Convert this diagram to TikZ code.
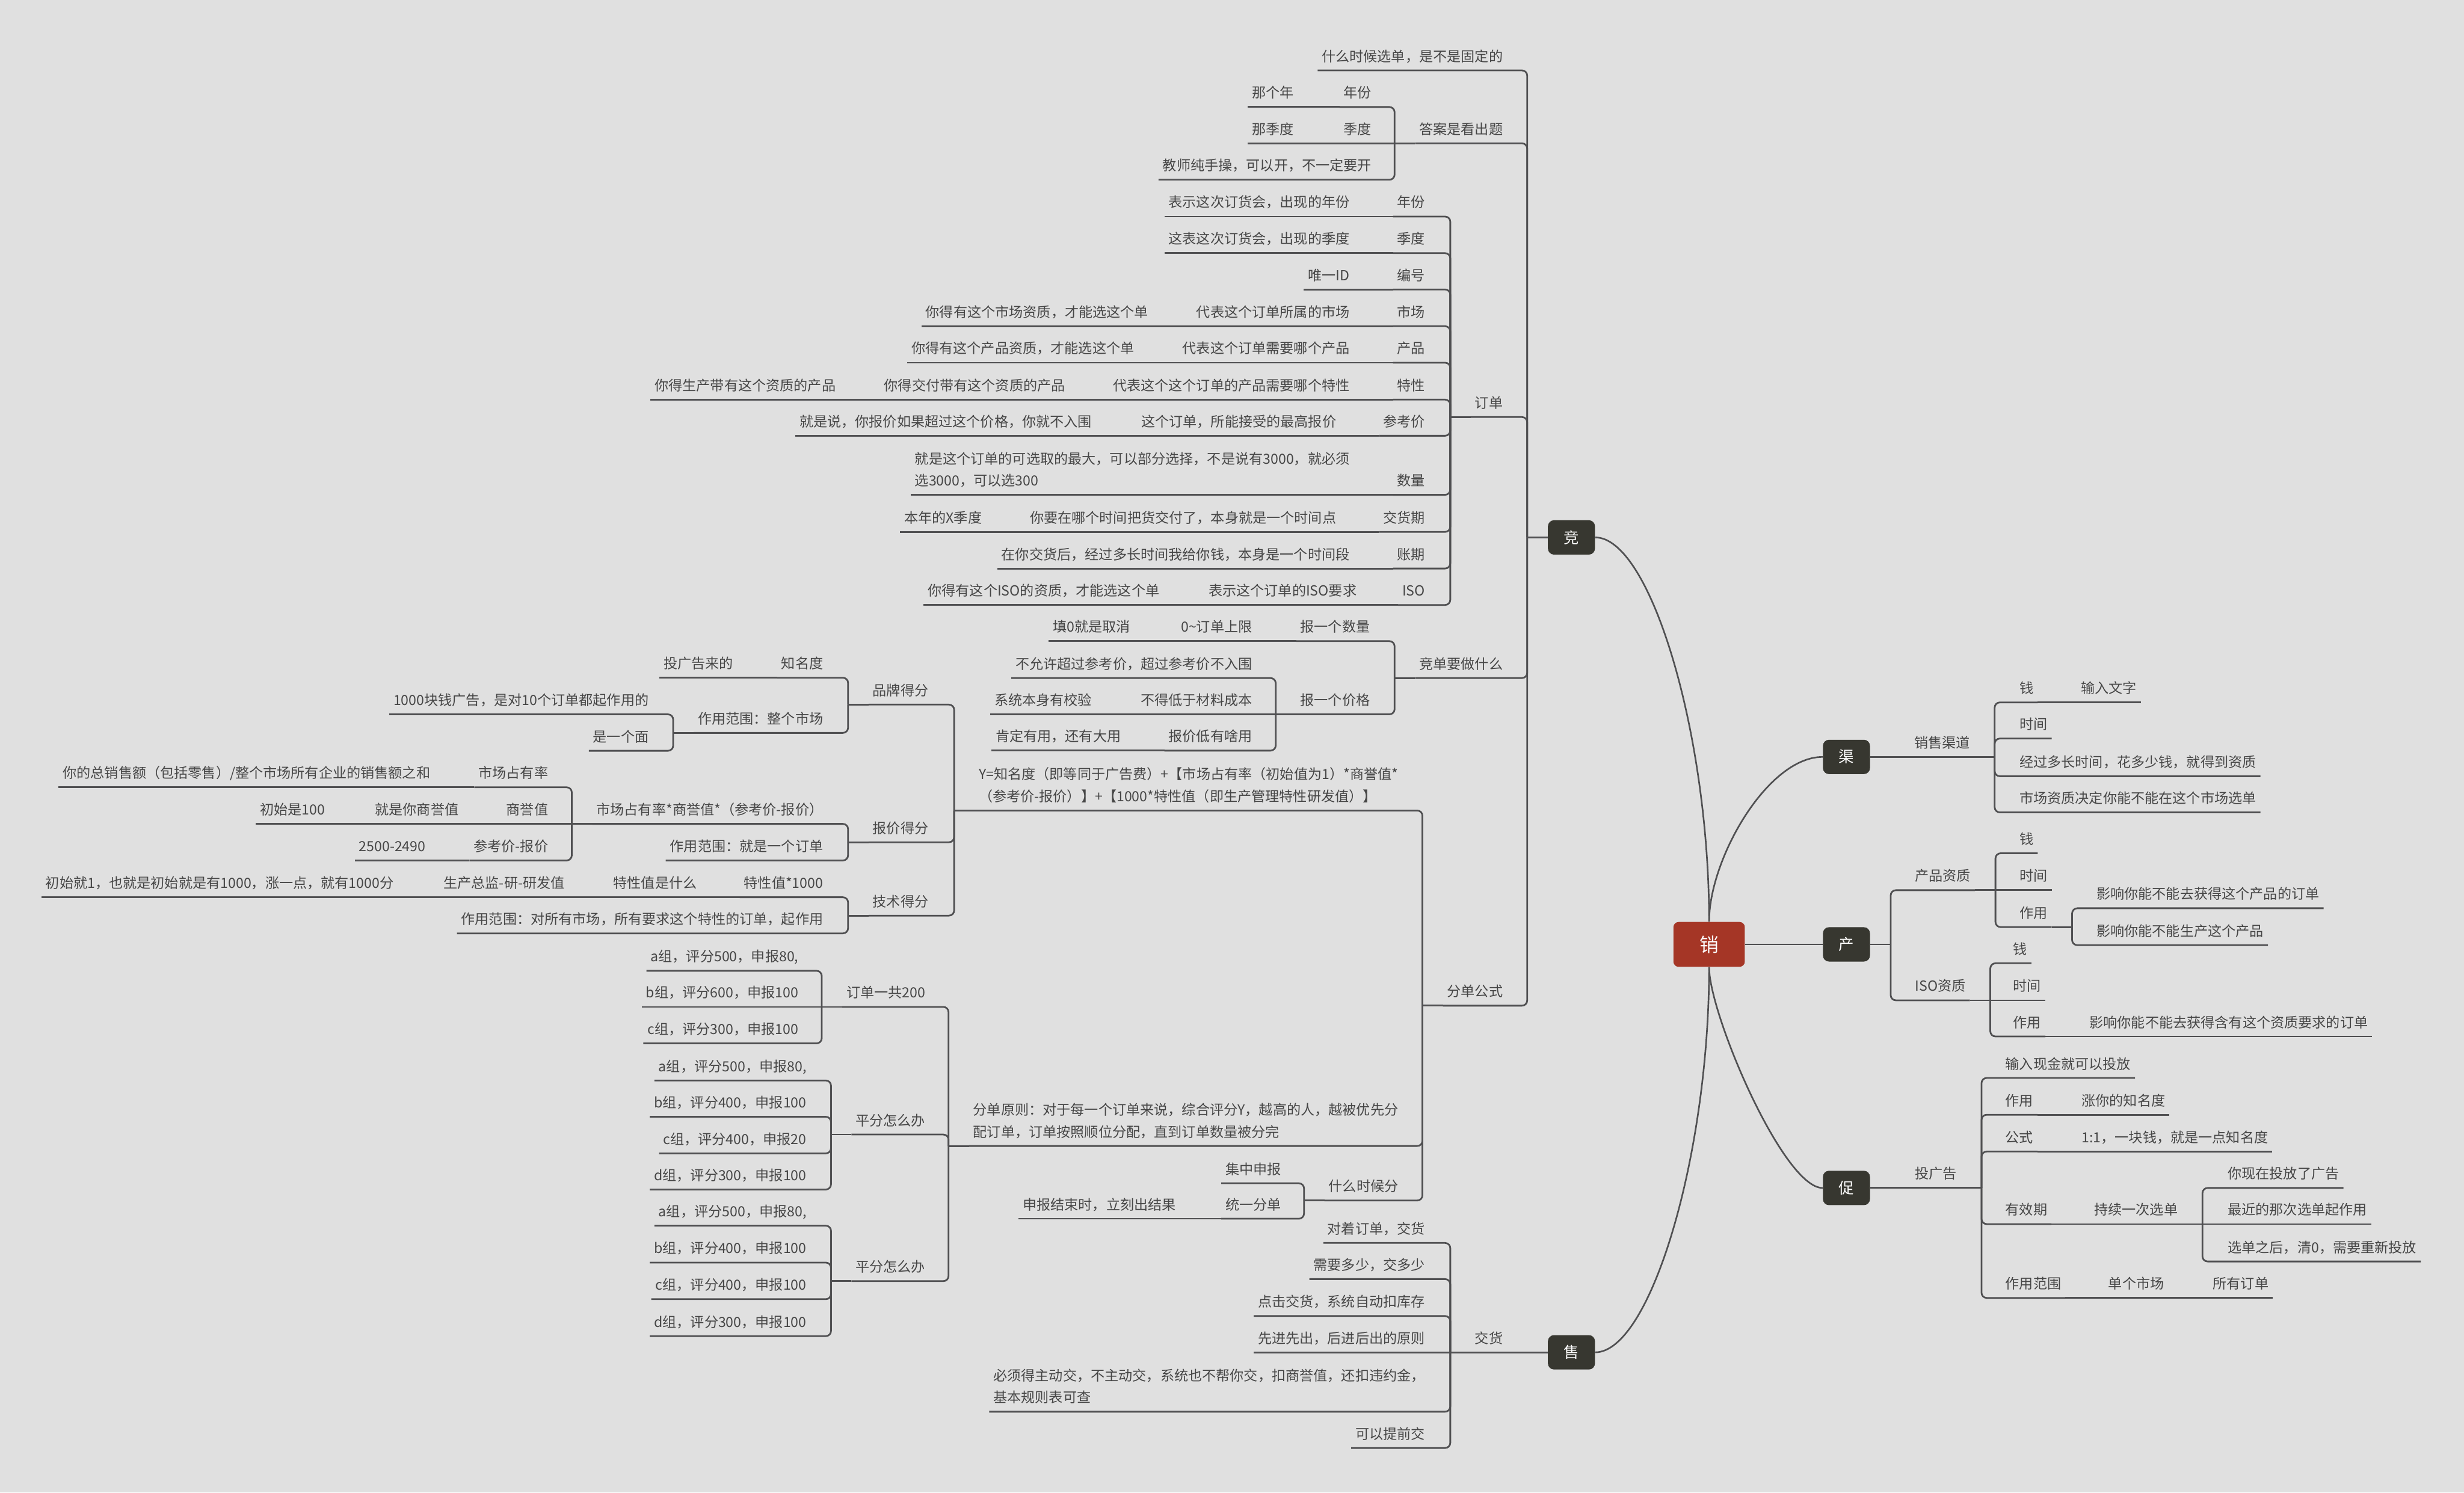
\documentclass[tikz,border=0pt]{standalone}
\usepackage{fontspec}
\setmainfont{Noto Sans CJK SC}
\usetikzlibrary{positioning}
\definecolor{paper}{RGB}{224,224,224}
\definecolor{ink}{RGB}{70,70,70}
\definecolor{wire}{RGB}{80,80,82}
\definecolor{hubfill}{RGB}{55,55,48}
\definecolor{rootfill}{RGB}{165,54,38}

\begin{document}
\begin{tikzpicture}[x=0.361mm, y=-0.361mm,
  every node/.style={font=\fontsize{9.1}{14.4}\selectfont, text=ink},
  lt/.style={anchor=south east, inner xsep=0.9mm, inner ysep=1.25mm, text height=2.75mm, text depth=0.75mm},
  rt/.style={lt, anchor=south west},
  ml/.style={anchor=south east, inner xsep=0.9mm, inner ysep=1.25mm, align=left, execute at end node={\rule[-0.75mm]{0pt}{0pt}}},
  hub/.style={fill=hubfill, text=white, rounded corners=1.4mm, minimum width=10.8mm, minimum height=7.9mm, inner sep=0pt, font=\fontsize{10}{12}\selectfont},
  root/.style={hub, fill=rootfill, rounded corners=1.2mm, minimum width=16.4mm, minimum height=10.3mm, font=\fontsize{12.5}{14}\selectfont},
  link/.style={draw=wire, line width=1.1pt, rounded corners=1.2mm},
  stem/.style={draw=wire, line width=1.05pt}]
\useasboundingbox (0,0) rectangle (1568,949.8);
\fill[paper] (0,0) rectangle (1568,949.8);

\node[root] (x) at (1087.6,601) {销};
\node[hub] (j) at (1000,342) {竞};
\node[hub] (s) at (1000,860.6) {售};
\node[hub] (q) at (1175,481.7) {渠};
\node[hub] (c) at (1175,601) {产};
\node[hub] (cu) at (1175,756) {促};

\node[lt] (j1) at (959,44.8) {什么时候选单，是不是固定的};
\node[lt] (j2) at (959,91.2) {答案是看出题};
\node[lt] (j2a) at (875.5,68.1) {年份};
\node[lt] (j2a1) at (826,68.1) {那个年};
\node[lt] (j2b) at (875.5,91.2) {季度};
\node[lt] (j2b1) at (826,91.2) {那季度};
\node[lt] (j2c) at (875.5,114.4) {教师纯手操，可以开，不一定要开};
\node[lt] (j3) at (959,265.4) {订单};
\node[lt] (j3a) at (909.5,137.8) {年份};
\node[lt] (j3a1) at (861.5,137.8) {表示这次订货会，出现的年份};
\node[lt] (j3b) at (909.5,161.1) {季度};
\node[lt] (j3b1) at (861.5,161.1) {这表这次订货会，出现的季度};
\node[lt] (j3c) at (909.5,184.2) {编号};
\node[lt] (j3c1) at (861.5,184.2) {唯一ID};
\node[lt] (j3d) at (909.5,207.6) {市场};
\node[lt] (j3d1) at (861.5,207.6) {代表这个订单所属的市场};
\node[lt] (j3d2) at (733.5,207.6) {你得有这个市场资质，才能选这个单};
\node[lt] (j3e) at (909.5,230.8) {产品};
\node[lt] (j3e1) at (861.5,230.8) {代表这个订单需要哪个产品};
\node[lt] (j3e2) at (724.5,230.8) {你得有这个产品资质，才能选这个单};
\node[lt] (j3f) at (909.5,254.3) {特性};
\node[lt] (j3f1) at (861.5,254.3) {代表这个这个订单的产品需要哪个特性};
\node[lt] (j3f2) at (680.5,254.3) {你得交付带有这个资质的产品};
\node[lt] (j3f3) at (534.5,254.3) {你得生产带有这个资质的产品};
\node[lt] (j3g) at (909.5,277.3) {参考价};
\node[lt] (j3g1) at (853,277.3) {这个订单，所能接受的最高报价};
\node[lt] (j3g2) at (697.5,277.3) {就是说，你报价如果超过这个价格，你就不入围};
\node[lt] (j3h) at (909.5,314.9) {数量};
\node[ml] (j3h1) at (861.5,314.9) {就是这个订单的可选取的最大，可以部分选择，不是说有3000，就必须\\选3000，可以选300};
\node[lt] (j3i) at (909.5,338.5) {交货期};
\node[lt] (j3i1) at (853,338.5) {你要在哪个时间把货交付了，本身就是一个时间点};
\node[lt] (j3i2) at (627.5,338.5) {本年的X季度};
\node[lt] (j3j) at (909.5,361.8) {账期};
\node[lt] (j3j1) at (861.5,361.8) {在你交货后，经过多长时间我给你钱，本身是一个时间段};
\node[lt] (j3k) at (909.5,385) {ISO};
\node[lt] (j3k1) at (866,385) {表示这个订单的ISO要求};
\node[lt] (j3k2) at (740.5,385) {你得有这个ISO的资质，才能选这个单};
\node[lt] (j4) at (959,431.5) {竞单要做什么};
\node[lt] (j4a) at (874.5,408) {报一个数量};
\node[lt] (j4a1) at (799.5,408) {0\textasciitilde 订单上限};
\node[lt] (j4a2) at (722,408) {填0就是取消};
\node[lt] (j4b) at (874.5,454.6) {报一个价格};
\node[lt] (j4b1) at (799.5,431.5) {不允许超过参考价，超过参考价不入围};
\node[lt] (j4b2) at (799.5,454.6) {不得低于材料成本};
\node[lt] (j4b21) at (697.5,454.6) {系统本身有校验};
\node[lt] (j4b3) at (799.5,477.7) {报价低有啥用};
\node[lt] (j4b31) at (716,477.7) {肯定有用，还有大用};
\node[lt] (j5) at (959,640) {分单公式};
\node[ml] (j5a) at (892.5,515.8) {Y=知名度（即等同于广告费）+【市场占有率（初始值为1）*商誉值*\\（参考价-报价）】+【1000*特性值（即生产管理特性研发值）】};
\node[lt] (j5a1) at (593.5,448.4) {品牌得分};
\node[lt] (j5a11) at (526.5,431.3) {知名度};
\node[lt] (j5a111) at (469.3,431.3) {投广告来的};
\node[lt] (j5a12) at (526.5,466.4) {作用范围：整个市场};
\node[lt] (j5a121) at (415.5,454.6) {1000块钱广告，是对10个订单都起作用的};
\node[lt] (j5a122) at (415.5,477.8) {是一个面};
\node[lt] (j5a2) at (593.5,536) {报价得分};
\node[lt] (j5a21) at (526.5,524.3) {市场占有率*商誉值*（参考价-报价）};
\node[lt] (j5a211) at (351.5,501) {市场占有率};
\node[lt] (j5a2111) at (276.5,501) {你的总销售额（包括零售）/整个市场所有企业的销售额之和};
\node[lt] (j5a212) at (351.5,524.3) {商誉值};
\node[lt] (j5a2121) at (294.5,524.3) {就是你商誉值};
\node[lt] (j5a2122) at (209.5,524.3) {初始是100};
\node[lt] (j5a213) at (351.5,547.6) {参考价-报价};
\node[lt] (j5a2131) at (273.5,547.6) {2500-2490};
\node[lt] (j5a22) at (526.5,547.6) {作用范围：就是一个订单};
\node[lt] (j5a3) at (593.5,582.7) {技术得分};
\node[lt] (j5a31) at (526.5,571) {特性值*1000};
\node[lt] (j5a311) at (446.2,571) {特性值是什么};
\node[lt] (j5a312) at (362,571) {生产总监-研-研发值};
\node[lt] (j5a313) at (253.2,571) {初始就1，也就是初始就是有1000，涨一点，就有1000分};
\node[lt] (j5a32) at (526.5,594) {作用范围：对所有市场，所有要求这个特性的订单，起作用};
\node[ml] (j5b) at (892.5,729.3) {分单原则：对于每一个订单来说，综合评分Y，越高的人，越被优先分\\配订单，订单按照顺位分配，直到订单数量被分完};
\node[lt] (j5b1) at (591.5,640.8) {订单一共200};
\node[lt] (j5b11) at (510.8,617.8) {a组，评分500，申报80,};
\node[lt] (j5b12) at (510.8,640.8) {b组，评分600，申报100};
\node[lt] (j5b13) at (510.8,664) {c组，评分300，申报100};
\node[lt] (j5b2) at (591.5,722) {平分怎么办};
\node[lt] (j5b21) at (515.9,687.6) {a组，评分500，申报80,};
\node[lt] (j5b22) at (515.9,710.7) {b组，评分400，申报100};
\node[lt] (j5b23) at (515.9,734) {c组，评分400，申报20};
\node[lt] (j5b24) at (515.9,757) {d组，评分300，申报100};
\node[lt] (j5b3) at (591.5,815.3) {平分怎么办};
\node[lt] (j5b31) at (515.9,780) {a组，评分500，申报80,};
\node[lt] (j5b32) at (515.9,803.5) {b组，评分400，申报100};
\node[lt] (j5b33) at (515.9,826.8) {c组，评分400，申报100};
\node[lt] (j5b34) at (515.9,850.3) {d组，评分300，申报100};
\node[lt] (j5c) at (892.5,764) {什么时候分};
\node[lt] (j5c1) at (818,753) {集中申报};
\node[lt] (j5c2) at (818,775.6) {统一分单};
\node[lt] (j5c21) at (751,775.6) {申报结束时，立刻出结果};

\node[lt] (s1) at (959,860.6) {交货};
\node[lt] (s1a) at (909.5,791) {对着订单，交货};
\node[lt] (s1b) at (909.5,814) {需要多少，交多少};
\node[lt] (s1c) at (909.5,837.5) {点击交货，系统自动扣库存};
\node[lt] (s1d) at (909.5,860.6) {先进先出，后进后出的原则};
\node[ml] (s1e) at (909.5,898.4) {必须得主动交，不主动交，系统也不帮你交，扣商誉值，还扣违约金，\\基本规则表可查};
\node[lt] (s1f) at (909.5,921.5) {可以提前交};

\node[rt] (q1) at (1215.5,481.7) {销售渠道};
\node[rt] (q1a) at (1282.5,447) {钱};
\node[rt] (q1a1) at (1321.5,447) {输入文字};
\node[rt] (q1b) at (1282.5,470) {时间};
\node[rt] (q1c) at (1282.5,494) {经过多长时间，花多少钱，就得到资质};
\node[rt] (q1d) at (1282.5,517) {市场资质决定你能不能在这个市场选单};

\node[rt] (c1) at (1216,566.5) {产品资质};
\node[rt] (c1a) at (1282.5,543) {钱};
\node[rt] (c1b) at (1282.5,566.5) {时间};
\node[rt] (c1c) at (1282.5,590) {作用};
\node[rt] (c1c1) at (1331.5,578) {影响你能不能去获得这个产品的订单};
\node[rt] (c1c2) at (1331.5,601.5) {影响你能不能生产这个产品};
\node[rt] (c2) at (1216,636.6) {ISO资质};
\node[rt] (c2a) at (1278.5,613) {钱};
\node[rt] (c2b) at (1278.5,636.6) {时间};
\node[rt] (c2c) at (1278.5,659.6) {作用};
\node[rt] (c2c1) at (1327,659.6) {影响你能不能去获得含有这个资质要求的订单};

\node[rt] (cu1) at (1216,756) {投广告};
\node[rt] (cu1a) at (1273.5,686) {输入现金就可以投放};
\node[rt] (cu1b) at (1273.5,709.4) {作用};
\node[rt] (cu1b1) at (1322,709.4) {涨你的知名度};
\node[rt] (cu1c) at (1273.5,732.8) {公式};
\node[rt] (cu1c1) at (1322,732.8) {1:1，一块钱，就是一点知名度};
\node[rt] (cu1d) at (1273.5,779) {有效期};
\node[rt] (cu1d1) at (1330,779) {持续一次选单};
\node[rt] (cu1d11) at (1415,756) {你现在投放了广告};
\node[rt] (cu1d12) at (1415,779) {最近的那次选单起作用};
\node[rt] (cu1d13) at (1415,802.8) {选单之后，清0，需要重新投放};
\node[rt] (cu1e) at (1273.5,826) {作用范围};
\node[rt] (cu1e1) at (1339,826) {单个市场};
\node[rt] (cu1e2) at (1405.5,826) {所有订单};

\draw[stem] (x.north) .. controls +(0,-120) and +(35,0) .. (j.east);
\draw[stem] (x.south) .. controls +(0,120) and +(35,0) .. (s.east);
\draw[stem] (x.north) .. controls +(0,-40) and +(-35,0) .. (q.west);
\draw[stem] (x.south) .. controls +(0,30) and +(-25,0) .. (cu.west);
\draw[stem] (x.east) -- (c.west);

\draw[stem] (j.west) -- ++(-13,0) coordinate (bj);
\draw[link] (bj) |- (j1.south east) -- (j1.south west);
\draw[link] (bj) |- (j2.south east) -- (j2.south west);
\draw[link] (bj) |- (j3.south east) -- (j3.south west);
\draw[link] (bj) |- (j4.south east) -- (j4.south west);
\draw[link] (bj) |- (j5.south east) -- (j5.south west);

\draw[link] (j2.south west) -- ++(-13,0) coordinate (bj2);
\draw[link] (bj2) |- (j2a.south east) -- (j2a.south west);
\draw[link] (bj2) -- (j2b.south west);
\draw[link] (bj2) |- (j2c.south east) -- (j2c.south west);
\draw[link] (j2a.south west) -- (j2a1.south west);
\draw[link] (j2b.south west) -- (j2b1.south west);

\draw[link] (j3.south west) -- ++(-13,0) coordinate (bj3);
\draw[link] (bj3) |- (j3a.south east) -- (j3a.south west);
\draw[link] (bj3) |- (j3b.south east) -- (j3b.south west);
\draw[link] (bj3) |- (j3c.south east) -- (j3c.south west);
\draw[link] (bj3) |- (j3d.south east) -- (j3d.south west);
\draw[link] (bj3) |- (j3e.south east) -- (j3e.south west);
\draw[link] (bj3) |- (j3f.south east) -- (j3f.south west);
\draw[link] (bj3) |- (j3g.south east) -- (j3g.south west);
\draw[link] (bj3) |- (j3h.south east) -- (j3h.south west);
\draw[link] (bj3) |- (j3i.south east) -- (j3i.south west);
\draw[link] (bj3) |- (j3j.south east) -- (j3j.south west);
\draw[link] (bj3) |- (j3k.south east) -- (j3k.south west);
\draw[link] (j3a.south west) -- (j3a1.south west);
\draw[link] (j3b.south west) -- (j3b1.south west);
\draw[link] (j3c.south west) -- (j3c1.south west);
\draw[link] (j3d.south west) -- (j3d1.south west) -- (j3d2.south west);
\draw[link] (j3e.south west) -- (j3e1.south west) -- (j3e2.south west);
\draw[link] (j3f.south west) -- (j3f1.south west) -- (j3f2.south west) -- (j3f3.south west);
\draw[link] (j3g.south west) -- (j3g1.south west) -- (j3g2.south west);
\draw[link] (j3h.south west) -- (j3h1.south west);
\draw[link] (j3i.south west) -- (j3i1.south west) -- (j3i2.south west);
\draw[link] (j3j.south west) -- (j3j1.south west);
\draw[link] (j3k.south west) -- (j3k1.south west) -- (j3k2.south west);

\draw[link] (j4.south west) -- ++(-13,0) coordinate (bj4);
\draw[link] (bj4) |- (j4a.south east) -- (j4a.south west);
\draw[link] (bj4) |- (j4b.south east) -- (j4b.south west);
\draw[link] (j4a.south west) -- (j4a1.south west) -- (j4a2.south west);
\draw[link] (j4b.south west) -- ++(-13,0) coordinate (bj4b);
\draw[link] (bj4b) |- (j4b1.south east) -- (j4b1.south west);
\draw[link] (bj4b) -- (j4b2.south west);
\draw[link] (bj4b) |- (j4b3.south east) -- (j4b3.south west);
\draw[link] (j4b2.south west) -- (j4b21.south west);
\draw[link] (j4b3.south west) -- (j4b31.south west);

\draw[link] (j5.south west) -- ++(-13,0) coordinate (bj5);
\draw[link] (bj5) |- (j5a.south east) -- (j5a.south west);
\draw[link] (bj5) |- (j5b.south east) -- (j5b.south west);
\draw[link] (bj5) |- (j5c.south east) -- (j5c.south west);
\draw[link] (j5a.south west) -- ++(-13,0) coordinate (bj5a);
\draw[link] (bj5a) |- (j5a1.south east) -- (j5a1.south west);
\draw[link] (bj5a) |- (j5a2.south east) -- (j5a2.south west);
\draw[link] (bj5a) |- (j5a3.south east) -- (j5a3.south west);
\draw[link] (j5a1.south west) -- ++(-13,0) coordinate (bj5a1);
\draw[link] (bj5a1) |- (j5a11.south east) -- (j5a11.south west);
\draw[link] (bj5a1) |- (j5a12.south east) -- (j5a12.south west);
\draw[link] (j5a11.south west) -- (j5a111.south west);
\draw[link] (j5a12.south west) -- ++(-13,0) coordinate (bj5a12);
\draw[link] (bj5a12) |- (j5a121.south east) -- (j5a121.south west);
\draw[link] (bj5a12) |- (j5a122.south east) -- (j5a122.south west);
\draw[link] (j5a2.south west) -- ++(-13,0) coordinate (bj5a2);
\draw[link] (bj5a2) |- (j5a21.south east) -- (j5a21.south west);
\draw[link] (bj5a2) |- (j5a22.south east) -- (j5a22.south west);
\draw[link] (j5a21.south west) -- ++(-13,0) coordinate (bj5a21);
\draw[link] (bj5a21) |- (j5a211.south east) -- (j5a211.south west);
\draw[link] (bj5a21) -- (j5a212.south west);
\draw[link] (bj5a21) |- (j5a213.south east) -- (j5a213.south west);
\draw[link] (j5a211.south west) -- (j5a2111.south west);
\draw[link] (j5a212.south west) -- (j5a2121.south west) -- (j5a2122.south west);
\draw[link] (j5a213.south west) -- (j5a2131.south west);
\draw[link] (j5a3.south west) -- ++(-13,0) coordinate (bj5a3);
\draw[link] (bj5a3) |- (j5a31.south east) -- (j5a31.south west);
\draw[link] (bj5a3) |- (j5a32.south east) -- (j5a32.south west);
\draw[link] (j5a31.south west) -- (j5a311.south west) -- (j5a312.south west) -- (j5a313.south west);
\draw[link] (j5b.south west) -- ++(-13,0) coordinate (bj5b);
\draw[link] (bj5b) |- (j5b1.south east) -- (j5b1.south west);
\draw[link] (bj5b) |- (j5b2.south east) -- (j5b2.south west);
\draw[link] (bj5b) |- (j5b3.south east) -- (j5b3.south west);
\draw[link] (j5b1.south west) -- ++(-13,0) coordinate (bj5b1);
\draw[link] (bj5b1) |- (j5b11.south east) -- (j5b11.south west);
\draw[link] (bj5b1) -- (j5b12.south west);
\draw[link] (bj5b1) |- (j5b13.south east) -- (j5b13.south west);
\draw[link] (j5b2.south west) -- ++(-13,0) coordinate (bj5b2);
\draw[link] (bj5b2) |- (j5b21.south east) -- (j5b21.south west);
\draw[link] (bj5b2) |- (j5b22.south east) -- (j5b22.south west);
\draw[link] (bj5b2) |- (j5b23.south east) -- (j5b23.south west);
\draw[link] (bj5b2) |- (j5b24.south east) -- (j5b24.south west);
\draw[link] (j5b3.south west) -- ++(-13,0) coordinate (bj5b3);
\draw[link] (bj5b3) |- (j5b31.south east) -- (j5b31.south west);
\draw[link] (bj5b3) |- (j5b32.south east) -- (j5b32.south west);
\draw[link] (bj5b3) |- (j5b33.south east) -- (j5b33.south west);
\draw[link] (bj5b3) |- (j5b34.south east) -- (j5b34.south west);
\draw[link] (j5c.south west) -- ++(-13,0) coordinate (bj5c);
\draw[link] (bj5c) |- (j5c1.south east) -- (j5c1.south west);
\draw[link] (bj5c) |- (j5c2.south east) -- (j5c2.south west);
\draw[link] (j5c2.south west) -- (j5c21.south west);

\draw[link] (s.west) -- (s1.south west);
\draw[link] (s1.south west) -- ++(-13,0) coordinate (bs1);
\draw[link] (bs1) |- (s1a.south east) -- (s1a.south west);
\draw[link] (bs1) |- (s1b.south east) -- (s1b.south west);
\draw[link] (bs1) |- (s1c.south east) -- (s1c.south west);
\draw[link] (bs1) -- (s1d.south west);
\draw[link] (bs1) |- (s1e.south east) -- (s1e.south west);
\draw[link] (bs1) |- (s1f.south east) -- (s1f.south west);

\draw[link] (q.east) -- (q1.south east);
\draw[link] (q1.south east) -- ++(13,0) coordinate (bq1);
\draw[link] (bq1) |- (q1a.south west) -- (q1a.south east);
\draw[link] (bq1) |- (q1b.south west) -- (q1b.south east);
\draw[link] (bq1) |- (q1c.south west) -- (q1c.south east);
\draw[link] (bq1) |- (q1d.south west) -- (q1d.south east);
\draw[link] (q1a.south east) -- (q1a1.south east);

\draw[stem] (c.east) -- ++(13,0) coordinate (bc);
\draw[link] (bc) |- (c1.south west) -- (c1.south east);
\draw[link] (bc) |- (c2.south west) -- (c2.south east);
\draw[link] (c1.south east) -- ++(13,0) coordinate (bc1);
\draw[link] (bc1) |- (c1a.south west) -- (c1a.south east);
\draw[link] (bc1) -- (c1b.south east);
\draw[link] (bc1) |- (c1c.south west) -- (c1c.south east);
\draw[link] (c1c.south east) -- ++(13,0) coordinate (bc1c);
\draw[link] (bc1c) |- (c1c1.south west) -- (c1c1.south east);
\draw[link] (bc1c) |- (c1c2.south west) -- (c1c2.south east);
\draw[link] (c2.south east) -- ++(13,0) coordinate (bc2);
\draw[link] (bc2) |- (c2a.south west) -- (c2a.south east);
\draw[link] (bc2) -- (c2b.south east);
\draw[link] (bc2) |- (c2c.south west) -- (c2c.south east);
\draw[link] (c2c.south east) -- (c2c1.south east);

\draw[link] (cu.east) -- (cu1.south east);
\draw[link] (cu1.south east) -- ++(13,0) coordinate (bcu1);
\draw[link] (bcu1) |- (cu1a.south west) -- (cu1a.south east);
\draw[link] (bcu1) |- (cu1b.south west) -- (cu1b.south east);
\draw[link] (bcu1) |- (cu1c.south west) -- (cu1c.south east);
\draw[link] (bcu1) |- (cu1d.south west) -- (cu1d.south east);
\draw[link] (bcu1) |- (cu1e.south west) -- (cu1e.south east);
\draw[link] (cu1b.south east) -- (cu1b1.south east);
\draw[link] (cu1c.south east) -- (cu1c1.south east);
\draw[link] (cu1d.south east) -- (cu1d1.south east);
\draw[link] (cu1d1.south east) -- ++(13,0) coordinate (bcu1d1);
\draw[link] (bcu1d1) |- (cu1d11.south west) -- (cu1d11.south east);
\draw[link] (bcu1d1) -- (cu1d12.south east);
\draw[link] (bcu1d1) |- (cu1d13.south west) -- (cu1d13.south east);
\draw[link] (cu1e.south east) -- (cu1e1.south east) -- (cu1e2.south east);
\end{tikzpicture}
\end{document}
